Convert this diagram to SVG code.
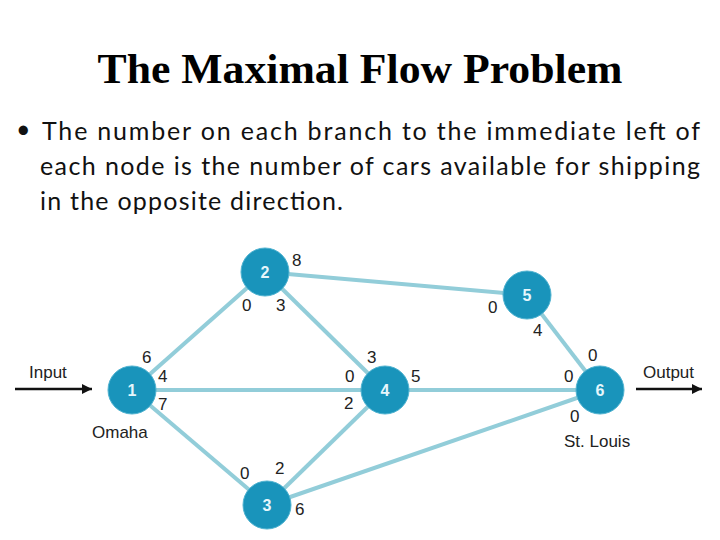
<svg xmlns="http://www.w3.org/2000/svg" width="720" height="540" viewBox="0 0 720 540">
<defs>
<style>
.edge{stroke:#92cdd9;stroke-width:4;fill:none}
.node circle{fill:#1994bb;stroke:#4fb2d0;stroke-width:1}
.node text{font-family:"Liberation Sans",Arial,sans-serif;font-size:16px;font-weight:bold;fill:#e6f6fb;text-anchor:middle}
.lbl{font-family:"Liberation Sans",Arial,sans-serif;font-size:17px;fill:#222}
.body{font-family:Lato,"Open Sans",sans-serif;font-size:25px;fill:#111}
</style>
<marker id="ah" viewBox="0 0 10 10" refX="10" refY="5" markerWidth="14" markerHeight="10" markerUnits="userSpaceOnUse" orient="auto">
<path d="M0,0 L10,5 L0,10 Z" fill="#111"/>
</marker>
</defs>
<rect width="720" height="540" fill="#fff"/>
<text x="360" y="83" text-anchor="middle" font-family="'Liberation Serif','Times New Roman',serif" font-weight="bold" font-size="42" fill="#000" textLength="525" lengthAdjust="spacingAndGlyphs">The Maximal Flow Problem</text>
<text class="body" x="16" y="138" font-size="17">•</text>
<text class="body" x="42" y="140" textLength="658" lengthAdjust="spacing">The number on each branch to the immediate left of</text>
<text class="body" x="40" y="175" textLength="660" lengthAdjust="spacing">each node is the number of cars available for shipping</text>
<text class="body" x="40" y="210" textLength="303" lengthAdjust="spacing">in the opposite direction.</text>
<g id="connectors">
<line class="edge" x1="132" y1="390" x2="265" y2="272"/>
<line class="edge" x1="132" y1="390" x2="385" y2="390"/>
<line class="edge" x1="132" y1="390" x2="267" y2="505"/>
<line class="edge" x1="265" y1="272" x2="527" y2="295"/>
<line class="edge" x1="265" y1="272" x2="385" y2="390"/>
<line class="edge" x1="267" y1="505" x2="385" y2="390"/>
<line class="edge" x1="267" y1="505" x2="600" y2="390"/>
<line class="edge" x1="385" y1="390" x2="600" y2="390"/>
<line class="edge" x1="527" y1="295" x2="600" y2="390"/>
<line x1="15" y1="389" x2="92" y2="389" stroke="#111" stroke-width="2.5" marker-end="url(#ah)"/>
<line x1="636" y1="389" x2="702" y2="389" stroke="#111" stroke-width="2.5" marker-end="url(#ah)"/>
</g>
<g id="node1" class="node"><circle cx="132" cy="390" r="24"/><text x="132" y="396">1</text></g>
<g id="node2" class="node"><circle cx="265" cy="272" r="24"/><text x="265" y="278">2</text></g>
<g id="node3" class="node"><circle cx="267" cy="505" r="24"/><text x="267" y="511">3</text></g>
<g id="node4" class="node"><circle cx="385" cy="390" r="24"/><text x="385" y="396">4</text></g>
<g id="node5" class="node"><circle cx="527" cy="295" r="24"/><text x="527" y="301">5</text></g>
<g id="node6" class="node"><circle cx="600" cy="390" r="24"/><text x="600" y="396">6</text></g>
<g id="labels" class="lbl">
<text x="29" y="378">Input</text>
<text x="92" y="438">Omaha</text>
<text x="643" y="378">Output</text>
<text x="564" y="447">St. Louis</text>
<text x="292" y="266">8</text>
<text x="242" y="311">0</text>
<text x="276" y="311">3</text>
<text x="142" y="363">6</text>
<text x="158" y="382">4</text>
<text x="158" y="410">7</text>
<text x="345" y="382">0</text>
<text x="344" y="409">2</text>
<text x="240" y="479">0</text>
<text x="275" y="474">2</text>
<text x="295" y="515">6</text>
<text x="367" y="363">3</text>
<text x="411" y="382">5</text>
<text x="488" y="313">0</text>
<text x="533" y="336">4</text>
<text x="588" y="361">0</text>
<text x="564" y="382">0</text>
<text x="570" y="422">0</text>
</g>
</svg>
